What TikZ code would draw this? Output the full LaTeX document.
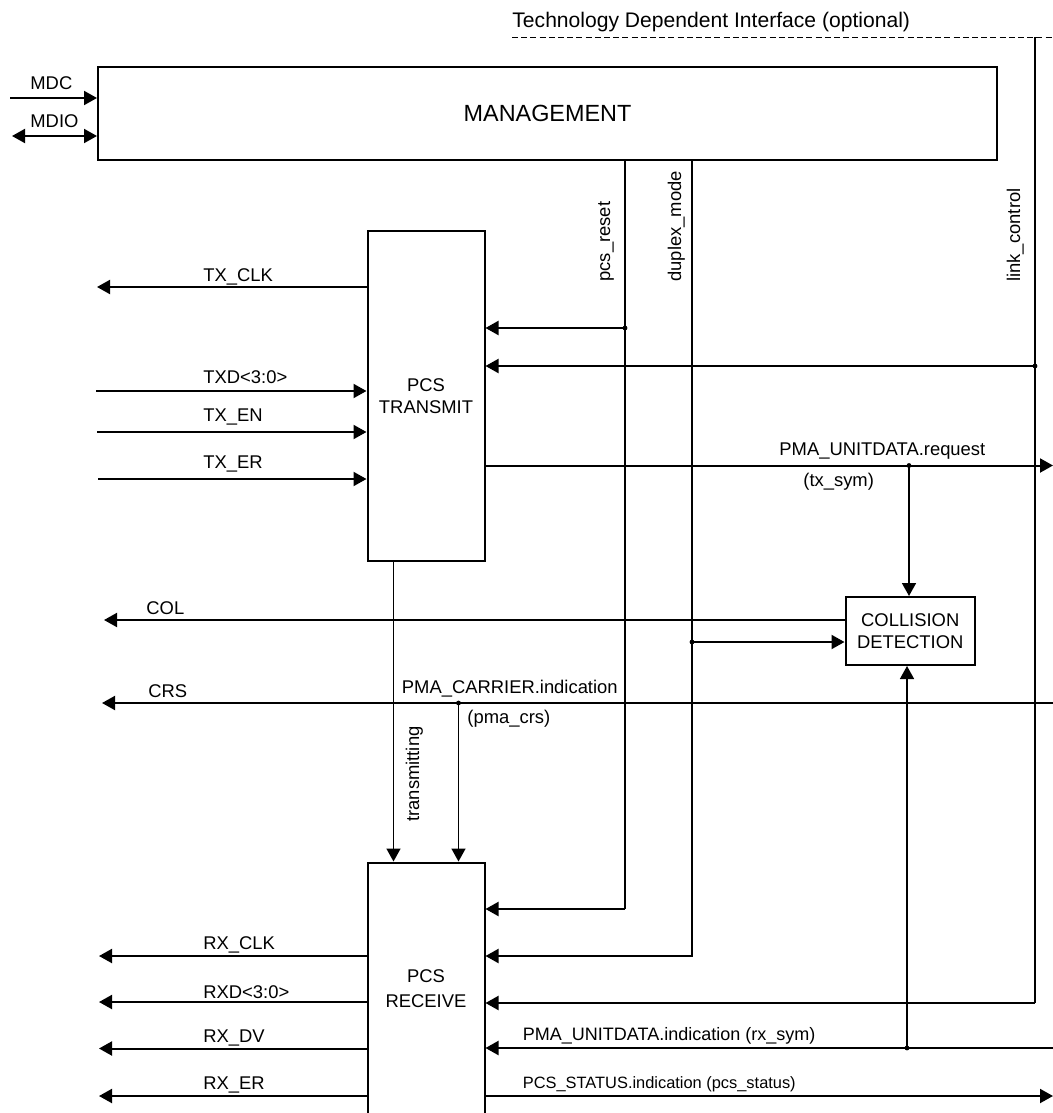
\documentclass[tikz,border=0pt]{standalone}
\usepackage{fontspec}
\setmainfont{Liberation Sans}
\usetikzlibrary{arrows.meta, positioning}

\begin{document}
\begin{tikzpicture}[x=0.5pt, y=-0.5pt,
    >={Triangle[length=6.5pt, width=7pt]},
    every node/.style={inner sep=0pt, font=\fontsize{9.2}{11}\selectfont},
    caja/.style={rectangle, draw, line width=1pt, align=center},
    etiq/.style={anchor=base west},
    vetiq/.style={anchor=base west, rotate=90},
    sig/.style={line width=1pt, ->},
    sigfina/.style={line width=0.8pt, ->},
    linea/.style={line width=0.6pt}]

    \useasboundingbox (0,0) rectangle (1053,1113);
    \clip (0,0) rectangle (1053,1113);

    % Interfaz dependiente de la tecnologia
    \node[etiq, font=\fontsize{10.55}{12}\selectfont] (tdi) at (512,27.3) {Technology Dependent Interface (optional)};
    \coordinate (tdiend) at (1053,37.5);
    \draw[line width=0.8pt, dash pattern=on 3pt off 1.6pt] (tdi.west |- tdiend) -- (tdiend);

    % Bloques
    \node[caja, minimum width=449.5pt, minimum height=46.5pt, font=\fontsize{11.7}{14}\selectfont] (mgmt) at (547.5,113.5) {MANAGEMENT};
    \node[caja, minimum width=58.5pt, minimum height=165pt] (tx) at (426,396) {PCS\\TRANSMIT};
    \node[caja, minimum width=64.75pt, minimum height=34pt] (cd) at (910.25,631) {COLLISION\\DETECTION};
    \node[caja, minimum width=58.5pt, minimum height=126.5pt] (rx) at (426,989) {PCS\\[1.5pt]RECEIVE};

    % Gestion
    \coordinate (mdc) at (10,98);
    \coordinate (mdio) at (12,136);
    \draw[sig] (mdc) -- (mdc -| mgmt.west);
    \draw[sig, <->] (mdio) -- (mdio -| mgmt.west);
    \node[etiq] (lmdc) at (30,90) {MDC};
    \node[etiq] (lmdio) at (30,127) {MDIO};

    % pcs_reset
    \coordinate (rst) at (625,328);
    \coordinate (rstb) at (625,909);
    \draw[linea] (mgmt.south -| rst) -- (rstb);
    \draw[sig] (rst) -- (rst -| tx.east);
    \draw[sig] (rstb) -- (rstb -| rx.east);
    \fill (rst) circle (1.2pt);
    \node[vetiq] (lrst) at (610,282) {pcs\_reset};

    % duplex_mode
    \coordinate (dupb) at (692,956);
    \coordinate (dupc) at (692,642);
    \draw[sig] (mgmt.south -| dupb) -- (dupb) -- (dupb -| rx.east);
    \draw[sig] (dupc) -- (dupc -| cd.west);
    \fill (dupc) circle (1.2pt);
    \node[vetiq] (ldup) at (681,282) {duplex\_mode};

    % link_control
    \coordinate (lnk) at (1035,366);
    \coordinate (lnkb) at (1035,1003);
    \draw[linea] (lnk |- tdiend) -- (lnkb);
    \draw[sig] (lnk) -- (lnk -| tx.east);
    \draw[sig] (lnkb) -- (lnkb -| rx.east);
    \fill (lnk) circle (1.2pt);
    \node[vetiq] (llnk) at (1020,282) {link\_control};

    % Lado de transmision
    \coordinate (txclk) at (97,287);
    \coordinate (txd) at (96,391);
    \coordinate (txen) at (97,432);
    \coordinate (txer) at (98,479);
    \draw[sig] (txclk -| tx.west) -- (txclk);
    \draw[sig] (txd) -- (txd -| tx.west);
    \draw[sig] (txen) -- (txen -| tx.west);
    \draw[sig] (txer) -- (txer -| tx.west);
    \node[etiq] (ltxclk) at (203,281.5) {TX\_CLK};
    \node[etiq] (ltxd) at (203,383) {TXD<3:0>};
    \node[etiq] (ltxen) at (203,421.5) {TX\_EN};
    \node[etiq] (ltxer) at (203,468) {TX\_ER};

    % PMA_UNITDATA.request
    \coordinate (req) at (1053,465.5);
    \coordinate (reqdot) at (909,465.5);
    \draw[sig] (req -| tx.east) -- (req);
    \draw[sigfina] (reqdot) -- (reqdot |- cd.north);
    \fill (reqdot) circle (1.2pt);
    \node[etiq] (lreq) at (779,455) {PMA\_UNITDATA.request};
    \node[etiq] (ltxsym) at (803,486.5) {(tx\_sym)};

    % COL y CRS
    \coordinate (col) at (104,620);
    \coordinate (crs) at (102,703);
    \coordinate (crsr) at (1053,703);
    \coordinate (crsdot) at (458.5,703);
    \draw[sig] (col -| cd.west) -- (col);
    \draw[sig] (crsr) -- (crs);
    \draw[sigfina] (crsdot) -- (crsdot |- rx.north);
    \fill (crsdot) circle (1.2pt);
    \node[etiq] (lcol) at (146,614) {COL};
    \node[etiq] (lcrs) at (148,697) {CRS};
    \node[etiq] (lcarr) at (401.5,693) {PMA\_CARRIER.indication};
    \node[etiq] (lpmacrs) at (467,723) {(pma\_crs)};

    % transmitting
    \draw[sigfina] ([xshift=-16.25pt]tx.south) -- ([xshift=-16.25pt]tx.south |- rx.north);
    \node[vetiq] (ltrans) at (419,822) {transmitting};

    % Lado de recepcion
    \coordinate (ind) at (1053,1048);
    \coordinate (inddot) at (907,1048);
    \coordinate (stat) at (1053,1096);
    \draw[sig] (ind) -- (ind -| rx.east);
    \draw[sigfina] (inddot) -- (inddot |- cd.south);
    \fill (inddot) circle (1.2pt);
    \draw[sig] (stat -| rx.east) -- (stat);
    \node[etiq, font=\fontsize{9}{11}\selectfont] (lind) at (522.5,1040.5) {PMA\_UNITDATA.indication (rx\_sym)};
    \node[etiq, font=\fontsize{8.2}{10}\selectfont] (lstat) at (522.5,1088) {PCS\_STATUS.indication (pcs\_status)};

    \coordinate (rxclk) at (99,956);
    \coordinate (rxd) at (99,1002);
    \coordinate (rxdv) at (99,1048.5);
    \coordinate (rxer) at (99,1096);
    \draw[sig] (rxclk -| rx.west) -- (rxclk);
    \draw[sig] (rxd -| rx.west) -- (rxd);
    \draw[sig] (rxdv -| rx.west) -- (rxdv);
    \draw[sig] (rxer -| rx.west) -- (rxer);
    \node[etiq] (lrxclk) at (203,949) {RX\_CLK};
    \node[etiq] (lrxd) at (203,998) {RXD<3:0>};
    \node[etiq] (lrxdv) at (203,1042.5) {RX\_DV};
    \node[etiq] (lrxer) at (203,1089) {RX\_ER};

\end{tikzpicture}
\end{document}
